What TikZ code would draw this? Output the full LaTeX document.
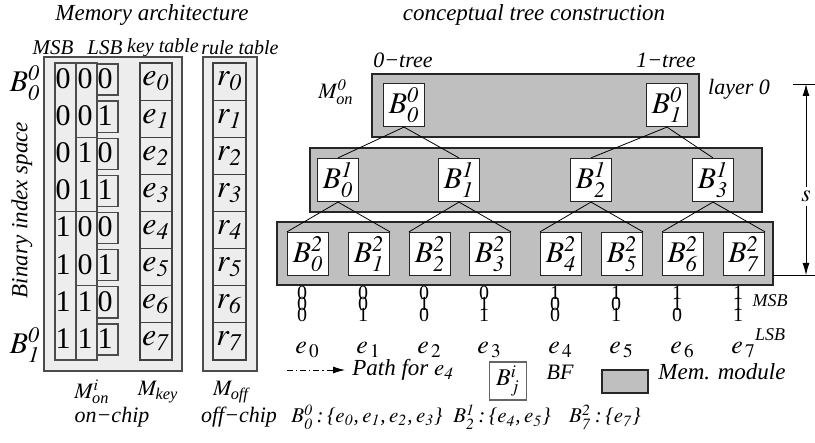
\documentclass[tikz,border=0pt]{standalone}
\usepackage{amsmath}
\usepackage{mathptmx}
\usepackage{fontspec}
\setmainfont{Liberation Serif}
\usetikzlibrary{arrows.meta}
\definecolor{modgray}{gray}{0.75}
\definecolor{memgray}{gray}{0.93}
\newcommand{\fsz}[1]{\fontsize{#1}{#1}\selectfont}
\begin{document}
\begin{tikzpicture}[x=0.5pt,y=-0.5pt,>={Latex[length=6pt,width=3.5pt]},
  every node/.style={inner sep=0pt,font=\fsz{11}\itshape},
  ttl/.style={font=\fsz{11.5}\itshape},
  hdr/.style={font=\fsz{10}\itshape},
  mod/.style={draw=black!85,fill=modgray,line width=0.6pt},
  bf/.style={draw=black!85,fill=white,line width=0.6pt,minimum width=20.5pt,minimum height=21.5pt,font=\fsz{15}},
  memout/.style={draw=black!70,fill=memgray,line width=0.7pt},
  cell/.style={draw=black!75,fill=memgray,line width=0.6pt,minimum height=18.56pt,font=\fsz{16}},
  bit/.style={font=\fsz{15}\upshape},
  tbit/.style={font=\fsz{10}\upshape},
  pathline/.style={->,dash pattern=on 3pt off 1.5pt on 0.6pt off 1.5pt}]
\useasboundingbox (0,0) rectangle (815,443);

% memory architecture
\node[ttl] (memtitle) at (152,15) {Memory architecture};
\node[hdr,font=\fsz{10.5}\itshape] (hmsb) at (53,48) {MSB};
\node[hdr,font=\fsz{10.5}\itshape] (hlsb) at (105,48) {LSB};
\node[hdr] (hkey) at (163,48) {key table};
\node[hdr] (hrule) at (240,48) {rule table};
\draw[memout] (44,57) rectangle (182,371);
\draw[memout] (203,57) rectangle (257,371);
\draw[memout] (55,63) rectangle (76,211.5);
\draw[memout] (55,211.5) rectangle (76,360);
\foreach \k in {0,...,3}
  \draw[memout] (76,{63+74.25*\k}) rectangle (97,{63+74.25*(\k+1)});
\foreach \k in {0,...,7}
  \draw[memout] (97,{63+37.125*\k+1}) rectangle (118,{63+37.125*(\k+1)-5});
\foreach \k/\a/\b/\c in {0/0/0/0,1/0/0/1,2/0/1/0,3/0/1/1,4/1/0/0,5/1/0/1,6/1/1/0,7/1/1/1} {
  \node[bit] (ma\k) at (63,{63+37.125*(\k+0.5)-3}) {\a};
  \node[bit] (mb\k) at (85,{63+37.125*(\k+0.5)-3}) {\b};
  \node[bit] (mc\k) at (105,{63+37.125*(\k+0.5)-3}) {\c};
  \node[cell,minimum width=16pt] (key\k) at (156,{63+37.125*(\k+0.5)}) {$e_{\mathit{\k}}$};
  \node[cell,minimum width=16.5pt] (rule\k) at (229.5,{63+37.125*(\k+0.5)}) {$r_{\mathit{\k}}$};
}
\node[font=\fsz{15}] (lb0) at (25,83) {$B^{\mathit0}_{\mathit0}$};
\node[font=\fsz{15}] (lb1) at (25,345) {$B^{\mathit0}_{\mathit1}$};
\node[ttl,rotate=90] (bis) at (22,210) {Binary index space};
\node (mon) at (92,392) {$M^{i}_{\textit{on}}$};
\node (mkey) at (158,392) {$M_{\textit{key}}$};
\node (moff) at (231,392) {$M_{\textit{off}}$};
\node (onchip) at (112,417) {on−chip};
\node (offchip) at (239,417) {off−chip};

% conceptual tree
\node[ttl] (treetitle) at (534,15) {conceptual tree construction};
\node (zt) at (403,60) {0−tree};
\node (ot) at (666,60) {1−tree};
\node (mon0) at (336,92) {$M^{\mathit0}_{\textit{on}}$};
\node (lay0) at (739,89) {layer 0};
\draw[mod] (372,74) rectangle (699,137);
\draw[mod] (310,148) rectangle (762,212);
\draw[mod] (277,222) rectangle (773,285);
\node[bf] (b00) at (404,105) {$B^{\mathit0}_{\mathit0}$};
\node[bf] (b01) at (667,105) {$B^{\mathit0}_{\mathit1}$};
\foreach \k/\x in {0/338,1/459,2/591,3/713}
  \node[bf] (b1\k) at (\x,180) {$B^{\mathit1}_{\mathit{\k}}$};
\foreach \k/\x in {0/308,1/369,2/430,3/490,4/561,5/622,6/683,7/744}
  \node[bf] (b2\k) at (\x,254) {$B^{\mathit2}_{\mathit{\k}}$};
\foreach \p/\c in {00/10,00/11,01/12,01/13}
  \draw (b\p.south) -- (b\c.north);
\foreach \k in {0,...,3} {
  \pgfmathtruncatemacro\l{2*\k}
  \pgfmathtruncatemacro\r{2*\k+1}
  \draw (b2\l.north west) -- (b1\k.south) -- (b2\r.north east);
}
% bits under the leaves
\foreach \k/\a/\b/\c in {0/0/0/0,1/0/0/1,2/0/1/0,3/0/1/1,4/1/0/0,5/1/0/1,6/1/1/0,7/1/1/1} {
  \node[tbit] (ta\k) at ([xshift=-3pt,yshift=-19.5pt]b2\k.center) {\a};
  \node[tbit] (tb\k) at ([xshift=-3pt,yshift=-25pt]b2\k.center) {\b};
  \node[tbit] (tc\k) at ([xshift=-3pt,yshift=-30.5pt]b2\k.center) {\c};
  \node[anchor=west,font=\fsz{13}] (e\k) at ([xshift=-6.5pt,yshift=-48pt]b2\k.center) {$e_{\,\mathrm{\k}}$};
}
\node[font=\fsz{9}\itshape] (msb) at (770,301) {MSB};
\node[font=\fsz{9}\itshape] (lsb) at (770,335) {LSB};
% height of the tree
\draw (793,84) -- (815,84);
\draw (773,275) -- (815,275);
\coordinate (stop) at (806,84);
\coordinate (sbot) at (806,275);
\draw[<->] (stop) -- node[pos=0.59,fill=white,inner ysep=2pt,font=\fsz{12}] (slab) {$s$} (sbot);

% legend
\coordinate (pa) at (287,370);
\coordinate (pb) at (345,370);
\draw[pathline] (pa) -- (pb);
\node[anchor=west,font=\fsz{11.5}\itshape] (pathlab) at (352,370) {Path for $e_{\mathit4}$};
\node[draw=black!60,fill=white,line width=0.6pt,minimum width=18.5pt,minimum height=19pt,font=\fsz{12}] (legbf) at (508,381) {$B^i_j$};
\node (bflab) at (560,372) {BF};
\node[mod,minimum width=23pt,minimum height=11.5pt] (legmod) at (625,381.5) {};
\node[font=\fsz{11.5}\itshape] (modlab) at (722,372) {Mem. module};
\node[font=\fsz{10.5}\itshape] (ex0) at (367,417) {$B^{\mathit0}_{\mathit0}$\,:\,\{$e_{\mathit0}$,\,$e_{\mathit1}$,\,$e_{\mathit2}$,\,$e_{\mathit3}$\}};
\node[font=\fsz{10.5}\itshape] (ex1) at (502,417) {$B^{\mathit1}_{\mathit2}$\,:\,\{$e_{\mathit4}$,\,$e_{\mathit5}$\}};
\node[font=\fsz{10.5}\itshape] (ex2) at (605,417) {$B^{\mathit2}_{\mathit7}$\,:\,\{$e_{\mathit7}$\}};
\end{tikzpicture}
\end{document}
